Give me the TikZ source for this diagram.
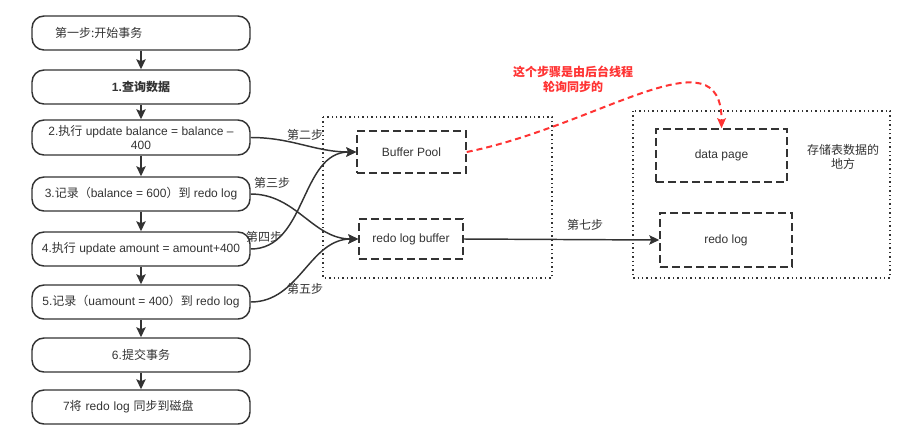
\documentclass[tikz,border=0pt]{standalone}
\usepackage{fontspec}
\setmainfont{Liberation Sans}
\newfontfamily\cjk{Noto Sans CJK SC}
\newcommand{\zh}[1]{{\cjk #1}}
\usetikzlibrary{arrows.meta}
\definecolor{ink}{HTML}{333333}
\definecolor{alert}{HTML}{FF3333}

\begin{document}
\begin{tikzpicture}[x=0.75pt, y=-0.75pt,
    every node/.style={font=\fontsize{9}{11}\selectfont, text=ink},
    stepbox/.style={draw=ink, line width=1.1pt, rounded corners=9pt, minimum width=163.5pt, minimum height=25.5pt, inner sep=0pt, align=center},
    membox/.style={draw=ink, line width=1.1pt, dash pattern=on 6pt off 3pt, inner sep=0pt},
    group/.style={draw=ink, line width=1pt, dash pattern=on 1.1pt off 2.2pt},
    flow/.style={draw=ink, line width=1.1pt, -{Stealth[length=7.5pt, width=7pt, inset=1.5pt]}}]
        \useasboundingbox (0,0) rectangle (906,440);

        % Steps of the transaction
        \node[stepbox, align=left, inner xsep=17.25pt, text width=129pt] (s0) at (141,33) {\zh{第一步:开始事务}};
        \node[stepbox, font=\fontsize{9}{11}\selectfont\bfseries] (s1) at (141,87) {1.\zh{查询数据}};
        \node[stepbox, minimum height=26.25pt] (s2) at (141,137.5) {2.\zh{执行} update balance = balance –\\400};
        \node[stepbox] (s3) at (141,194) {3.\zh{记录（}balance = 600\zh{）到} redo log};
        \node[stepbox] (s4) at (141,249) {4.\zh{执行} update amount = amount+400};
        \node[stepbox] (s5) at (141,302) {5.\zh{记录（}uamount = 400\zh{）到} redo log};
        \node[stepbox] (s6) at (141,355) {6.\zh{提交事务}};
        \node[stepbox, align=left, inner xsep=23.25pt, text width=117pt] (s7) at (141,407) {7\zh{将} redo log \zh{同步到磁盘}};

        % Flow between the steps
        \foreach \a/\b in {s0/s1, s1/s2, s2/s3, s3/s4, s4/s5, s5/s6, s6/s7}
            \draw[flow] (\a) -- (\b);

        % Memory
        \draw[group] (323,117) rectangle (552,278);
        \node[membox, minimum width=81.75pt, minimum height=31.5pt] (bp) at (411.5,152) {Buffer Pool};
        \node[membox, minimum width=78pt, minimum height=30pt] (rlb) at (411,239) {redo log buffer};

        % Disk
        \draw[group] (633,111) rectangle (890,278);
        \node[membox, minimum width=98.25pt, minimum height=39.75pt] (dp) at (721.5,155.5) {data page};
        \node[membox, minimum width=99pt, minimum height=40.5pt] (rl) at (726,240) {redo log};
        \node[align=center] (disk) at (843,157) {\zh{存储表数据的}\\\zh{地方}};

        % Connections
        \draw[flow] (s2.east) to[out=0, in=180] (bp.west);
        \draw[flow] (s3.east) to[out=0, in=180] (rlb.west);
        \draw[flow] (s4.east) to[out=0, in=180] (bp.west);
        \draw[flow] (s5.east) to[out=0, in=180] (rlb.west);
        \draw[flow] (rlb.east) -- (rl.west);

        \node (l2) at (305,135) {\zh{第二步}};
        \node (l3) at (272,183) {\zh{第三步}};
        \node (l4) at (264,237) {\zh{第四步}};
        \node (l5) at (305,289) {\zh{第五步}};
        \node (l7) at (585,225) {\zh{第七步}};

        % Background thread
        \draw[alert, line width=1.5pt, dash pattern=on 4.5pt off 3pt, -{Stealth[length=7.5pt, width=6.5pt, inset=1.5pt]}]
            (bp.east) .. controls (600,125) and (722,30) .. (dp.north);
        \node[align=center, text=alert, font=\fontsize{9}{11}\selectfont\bfseries] (note) at (573,79) {\zh{这个步骤是由后台线程}\\\zh{轮询同步的}};
    \end{tikzpicture}
\end{document}
